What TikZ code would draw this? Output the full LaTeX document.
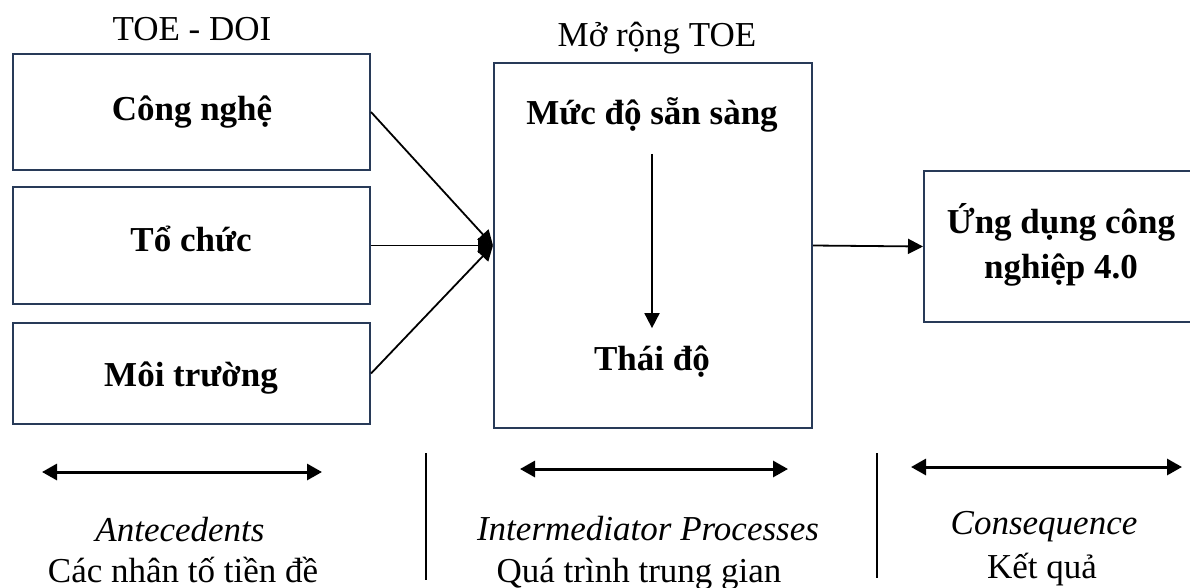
\documentclass[tikz,border=0pt]{standalone}
\usepackage{fontspec}
\setmainfont{Liberation Serif}
\usetikzlibrary{arrows.meta}
\definecolor{boxline}{RGB}{40,58,88}
\begin{document}
\begin{tikzpicture}[x=1pt,y=-1pt,
  box/.style={draw=boxline,line width=2pt,fill=none,inner sep=0pt},
  label/.style={inner sep=0pt,anchor=base,font=\fontsize{35}{42}\selectfont},
  boldlabel/.style={inner sep=0pt,anchor=base,font=\fontsize{35}{42}\selectfont\bfseries},
  itlabel/.style={inner sep=0pt,anchor=base,font=\fontsize{35}{42}\selectfont\itshape},
  link/.style={line width=1.8pt,-{Triangle[length=15pt,width=15pt]}},
  span/.style={line width=3pt,{Triangle[length=15pt,width=16pt]}-{Triangle[length=15pt,width=16pt]}},
  divider/.style={line width=1.2pt}]
\useasboundingbox (0,0) rectangle (1190,587);

% column headings
\node[label] (hdoi) at (192,40) {TOE - DOI};
\node[label] (hext) at (657,46) {Mở rộng TOE};

% antecedent factors
\node[box,minimum width=357pt,minimum height=116pt] (tech) at (191.5,112) {};
\node[box,minimum width=357pt,minimum height=117pt] (org)  at (191.5,245.5) {};
\node[box,minimum width=357pt,minimum height=101pt] (env)  at (191.5,373.5) {};
\node[boldlabel] (ttech) at (192,120) {Công nghệ};
\node[boldlabel] (torg)  at (191,251) {Tổ chức};
\node[boldlabel] (tenv)  at (191,386) {Môi trường};

% intermediate process
\node[box,minimum width=318pt,minimum height=365pt] (mid) at (653,245.5) {};
\node[boldlabel] (ready) at (652,124) {Mức độ sẵn sàng};
\node[boldlabel] (att)   at (652,370) {Thái độ};

% consequence
\node[box,minimum width=280pt,minimum height=151pt] (out) at (1064,246.5) {};
\node[boldlabel] (tout1) at (1061,233) {Ứng dụng công};
\node[boldlabel] (tout2) at (1061,278) {nghiệp 4.0};

% connectors
\draw[link] (tech.east) -- (mid.west);
\draw[link] (org.east)  -- (mid.west);
\draw[link] (env.east)  -- (mid.west);
\draw[link] (mid.east)  -- (out.west);
\draw[link,shorten <=22pt,shorten >=17pt] (ready.south) -- (att.north);

% phase spans and dividers
\coordinate (s1a) at (42,472);  \coordinate (s1b) at (322,472);
\coordinate (s2a) at (520,469); \coordinate (s2b) at (788,469);
\coordinate (s3a) at (911,467); \coordinate (s3b) at (1182,467);
\draw[span] (s1a) -- (s1b);
\draw[span] (s2a) -- (s2b);
\draw[span] (s3a) -- (s3b);
\coordinate (d1a) at (426,453); \coordinate (d1b) at (426,580);
\coordinate (d2a) at (877,453); \coordinate (d2b) at (877,578);
\draw[divider] (d1a) -- (d1b);
\draw[divider] (d2a) -- (d2b);

% phase captions
\node[itlabel] (cant) at (180,541) {Antecedents};
\node[label]   (vant) at (183,582) {Các nhân tố tiền đề};
\node[itlabel] (cint) at (648,540) {Intermediator Processes};
\node[label]   (vint) at (639,582) {Quá trình trung gian};
\node[itlabel] (ccon) at (1044,534) {Consequence};
\node[label]   (vcon) at (1042,578) {Kết quả};
\end{tikzpicture}
\end{document}
